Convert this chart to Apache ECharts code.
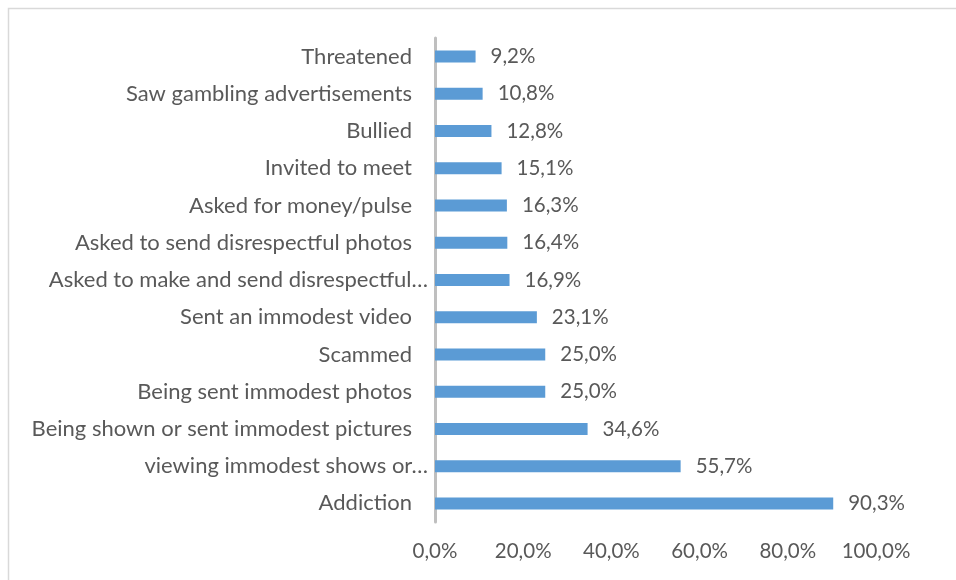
<!DOCTYPE html>
<html>
<head>
<meta charset="utf-8">
<script src="https://cdn.jsdelivr.net/npm/echarts@6/dist/echarts.min.js"></script>
<style>
  html, body { margin: 0; padding: 0; background: #ffffff; }
  #chart { width: 956px; height: 580px; }
</style>
</head>
<body>
<div id="chart"></div>
<script>
// Online risks reported, bottom to top as drawn on the category axis
const categories = [
  'Addiction',
  'viewing immodest shows or…',
  'Being shown or sent immodest pictures',
  'Being sent immodest photos',
  'Scammed',
  'Sent an immodest video',
  'Asked to make and send disrespectful…',
  'Asked to send disrespectful photos',
  'Asked for money/pulse',
  'Invited to meet',
  'Bullied',
  'Saw gambling advertisements',
  'Threatened'
];
const shares = [90.3, 55.7, 34.6, 25.0, 25.0, 23.1, 16.9, 16.4, 16.3, 15.1, 12.8, 10.8, 9.2];
const xTicks = { min: 0, max: 100, step: 20 };

const fmt = v => v.toFixed(1).replace('.', ',') + '%';
const FONT = 'Lato';
const TEXT = '#595959';

const chart = echarts.init(document.getElementById('chart'), null, { renderer: 'canvas' });
chart.setOption({
  backgroundColor: '#ffffff',
  animation: false,
  graphic: [{
    type: 'rect',
    shape: { x: 8.5, y: 8.5, width: 1200, height: 1200 },
    style: { fill: 'none', stroke: '#d9d9d9', lineWidth: 1.5 },
    silent: true
  }],
  grid: { left: 435, right: 80, top: 38, bottom: 58, containLabel: false },
  xAxis: {
    type: 'value',
    min: xTicks.min,
    max: xTicks.max,
    interval: xTicks.step,
    axisLine: { show: false },
    axisTick: { show: false },
    splitLine: { show: false },
    axisLabel: {
      margin: 19,
      color: TEXT,
      fontFamily: FONT,
      fontSize: 20.5,
      formatter: v => fmt(v)
    }
  },
  yAxis: {
    type: 'category',
    data: categories,
    axisLine: { show: true, lineStyle: { color: '#bfbfbf', width: 3 } },
    axisTick: { show: false },
    axisLabel: {
      margin: 6,
      color: TEXT,
      fontFamily: FONT,
      fontSize: 22,
      // shortened names sit closer to the axis than full ones
      formatter: v => v.endsWith('…') ? '{t|' + v + '}' : '{n|' + v + '}',
      rich: {
        n: { fontFamily: FONT, fontSize: 22, color: TEXT, padding: [0, 17, 0, 0] },
        t: { fontFamily: FONT, fontSize: 22, color: TEXT, padding: [0, 1, 0, 0] }
      }
    }
  },
  series: [{
    type: 'bar',
    data: shares,
    barWidth: 12,
    itemStyle: { color: '#5b9bd5' },
    label: {
      show: true,
      position: 'right',
      distance: 15,
      color: TEXT,
      fontFamily: FONT,
      fontSize: 20.5,
      formatter: p => fmt(p.value)
    }
  }]
});
</script>
</body>
</html>
